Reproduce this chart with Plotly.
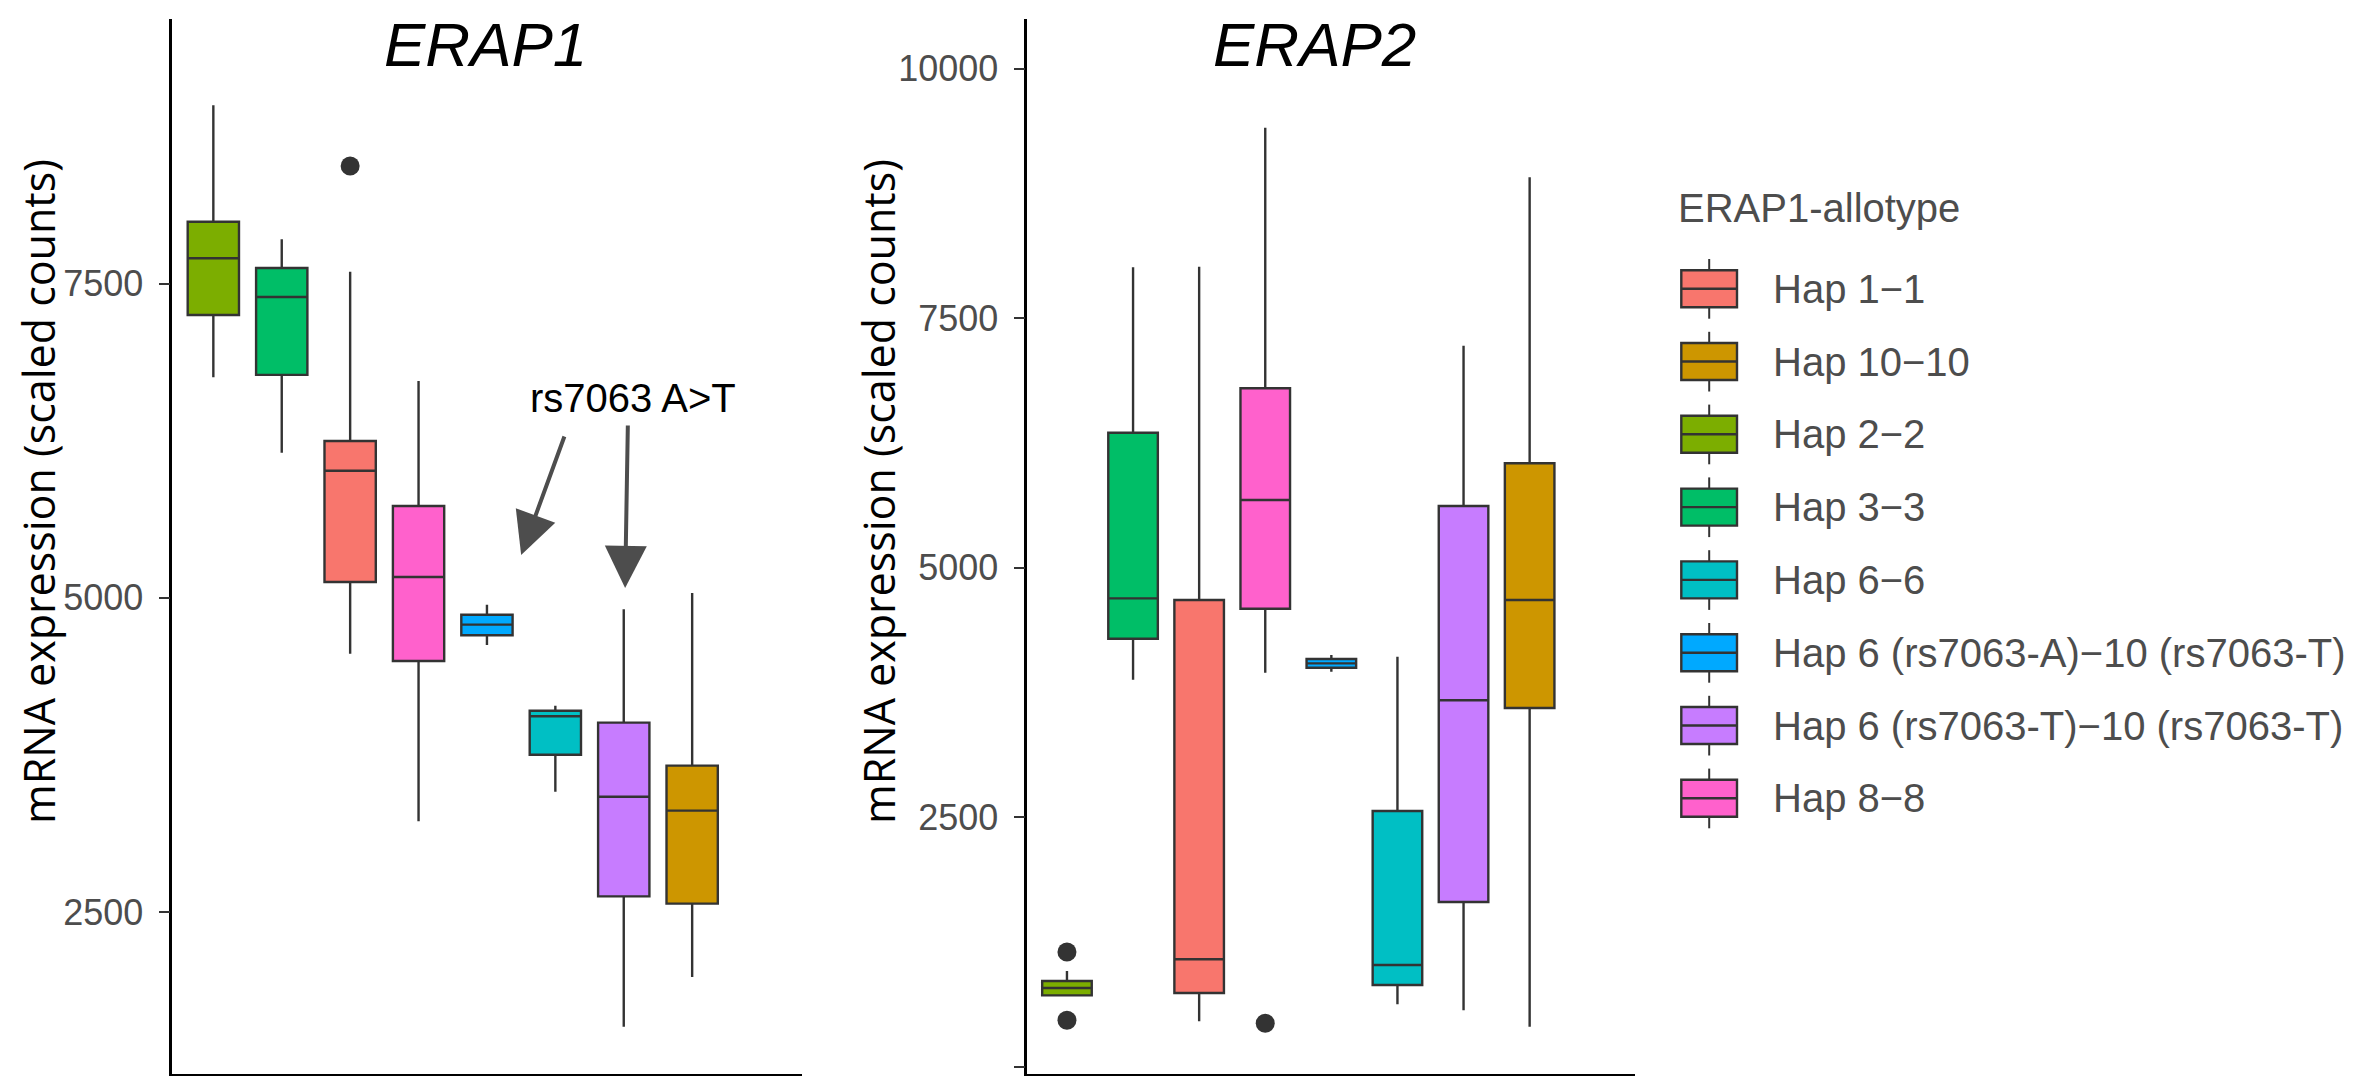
import plotly.graph_objects as go

W, H = 2362, 1076
OFF_Y = 8  # the page pushes the figure 8 px down in the photo

# x order of the haplotypes (same in both panels)
haps = ["Hap 2−2", "Hap 3−3", "Hap 1−1", "Hap 8−8",
        "Hap 6 (rs7063-A)−10 (rs7063-T)", "Hap 6−6",
        "Hap 6 (rs7063-T)−10 (rs7063-T)", "Hap 10−10"]
legend_order = ["Hap 1−1", "Hap 10−10", "Hap 2−2", "Hap 3−3", "Hap 6−6",
                "Hap 6 (rs7063-A)−10 (rs7063-T)",
                "Hap 6 (rs7063-T)−10 (rs7063-T)", "Hap 8−8"]
hap_colors = ["#7CAE00", "#00BE67", "#F8766D", "#FF61CC",
              "#00A9FF", "#00BFC4", "#C77CFF", "#CD9600"]

# ERAP1 box stats
erap1_low = [6755, 6154, 4556, 3222, 4625, 3458, 1587, 1984]
erap1_q1 = [7251, 6774, 5126, 4498, 4702, 3752, 2625, 2567]
erap1_med = [7702, 7394, 6012, 5166, 4787, 4058, 3418, 3307]
erap1_q3 = [7993, 7625, 6248, 5731, 4866, 4102, 4007, 3665]
erap1_high = [8920, 7853, 7595, 6726, 4946, 4142, 4909, 5039]
erap1_out_hap = ["Hap 1−1"]
erap1_out_val = [8437]

# ERAP2 box stats
erap2_low = [712, 3879, 458, 3949, 3959, 628, 568, 404]
erap2_q1 = [718, 4290, 741, 4590, 3999, 821, 1653, 3596]
erap2_med = [791, 4694, 1079, 5679, 4043, 1022, 3673, 4677]
erap2_q3 = [861, 6353, 4677, 6798, 4087, 2564, 5619, 6047]
erap2_high = [962, 8010, 8016, 9408, 4127, 4110, 7225, 8911]
erap2_out_hap = ["Hap 2−2", "Hap 2−2", "Hap 8−8"]
erap2_out_val = [1152, 468, 438]

erap1_ticks = [2500, 5000, 7500]
erap2_ticks = [0, 2500, 5000, 7500, 10000]
erap2_ticktext = ["", "2500", "5000", "7500", "10000"]

color_of = dict(zip(haps, hap_colors))
LINE = "#333333"
GREY = "#4D4D4D"
SANS = "Liberation Sans, Arial, sans-serif"


def px(x):
    return x / W


def py(y):
    return 1 - (y - OFF_Y) / H


fig = go.Figure()

panels = [
    ("x", "y", erap1_low, erap1_q1, erap1_med, erap1_q3, erap1_high, erap1_out_hap, erap1_out_val),
    ("x2", "y2", erap2_low, erap2_q1, erap2_med, erap2_q3, erap2_high, erap2_out_hap, erap2_out_val),
]
for xa, ya, lo, q1, med, q3, hi, out_h, out_v in panels:
    for i, h in enumerate(haps):
        fig.add_trace(go.Box(
            x=[h], lowerfence=[lo[i]], q1=[q1[i]], median=[med[i]],
            q3=[q3[i]], upperfence=[hi[i]],
            width=0.75, whiskerwidth=0, boxpoints=False,
            fillcolor=color_of[h], line=dict(color=LINE, width=2.4),
            name=h, showlegend=False, xaxis=xa, yaxis=ya, hoverinfo="y"))
    fig.add_trace(go.Scatter(
        x=out_h, y=out_v, mode="markers",
        marker=dict(color=LINE, size=19), showlegend=False,
        xaxis=xa, yaxis=ya))

xcommon = dict(type="category", categoryorder="array", categoryarray=haps,
               range=[-0.6, 8.6], showticklabels=False, ticks="",
               showline=True, linecolor="black", linewidth=2.5,
               showgrid=False, zeroline=False)
ycommon = dict(showline=True, linecolor="black", linewidth=2.5,
               ticks="outside", ticklen=11, tickwidth=2, tickcolor=LINE,
               tickfont=dict(family=SANS, size=36, color=GREY),
               ticklabelstandoff=8, showgrid=False, zeroline=False)

fig.update_layout(
    width=W, height=H, margin=dict(l=0, r=0, t=0, b=0),
    plot_bgcolor="white", paper_bgcolor="white",
    xaxis=dict(domain=[px(164.3), px(793.6)], **xcommon),
    xaxis2=dict(domain=[px(1019.3), px(1627.4)], anchor="y2", **xcommon),
    yaxis=dict(domain=[py(1074.3), py(19)], range=[1209, 9606],
               tickvals=erap1_ticks, **ycommon),
    yaxis2=dict(domain=[py(1074.3), py(19)], range=[-73, 10497], anchor="x2",
                tickvals=erap2_ticks, ticktext=erap2_ticktext, **ycommon),
)

# panel titles
for label, cx in [("ERAP1", 477.5), ("ERAP2", 1307)]:
    fig.add_annotation(text="<i>" + label + "</i>", xref="paper", yref="paper",
                       x=px(cx), y=1, xanchor="center", yanchor="top",
                       showarrow=False, font=dict(family=SANS, size=62, color="black"))

# y axis titles
for cx in [30, 870]:
    fig.add_annotation(text="mRNA expression (scaled counts)", xref="paper", yref="paper",
                       x=px(cx), y=py(492), textangle=-90, showarrow=False,
                       xanchor="center", yanchor="middle",
                       font=dict(family="Open Sans", size=43, color="black"))

# rs7063 annotation with two arrows
fig.add_annotation(text="rs7063 A>T", xref="x", yref="y", x=6.13, y=6590,
                   showarrow=False, xanchor="center", yanchor="middle",
                   font=dict(family=SANS, size=40, color="black"))
for tip_x, tip_y, tail_x, tail_y in [(4.5, 5341, 5.14, 6296), (6.02, 5079, 6.06, 6384)]:
    fig.add_annotation(text="", xref="x", yref="y", axref="x", ayref="y",
                       x=tip_x, y=tip_y, ax=tail_x, ay=tail_y,
                       showarrow=True, arrowhead=2, arrowsize=2.1,
                       arrowwidth=4, arrowcolor=GREY)

# legend drawn as box keys
fig.add_annotation(text="ERAP1-allotype", xref="paper", yref="paper",
                   x=px(1668), y=py(208), xanchor="left", yanchor="middle",
                   showarrow=False, font=dict(family=SANS, size=40, color=GREY))
for i, h in enumerate(legend_order):
    cy = 288.7 + 72.8 * i
    fig.add_shape(type="line", xref="paper", yref="paper",
                  x0=px(1701.2), x1=px(1701.2), y0=py(cy - 29.7), y1=py(cy + 30),
                  line=dict(color=LINE, width=2))
    fig.add_shape(type="rect", xref="paper", yref="paper",
                  x0=px(1673.3), x1=px(1729), y0=py(cy - 18.5), y1=py(cy + 18.5),
                  fillcolor=color_of[h], line=dict(color=LINE, width=2.4))
    fig.add_shape(type="line", xref="paper", yref="paper",
                  x0=px(1673.3), x1=px(1729), y0=py(cy), y1=py(cy),
                  line=dict(color=LINE, width=2.4))
    fig.add_annotation(text=h, xref="paper", yref="paper",
                       x=px(1762.7), y=py(cy), xanchor="left", yanchor="middle",
                       showarrow=False, font=dict(family=SANS, size=40, color=GREY))

fig.write_html("out.html")
